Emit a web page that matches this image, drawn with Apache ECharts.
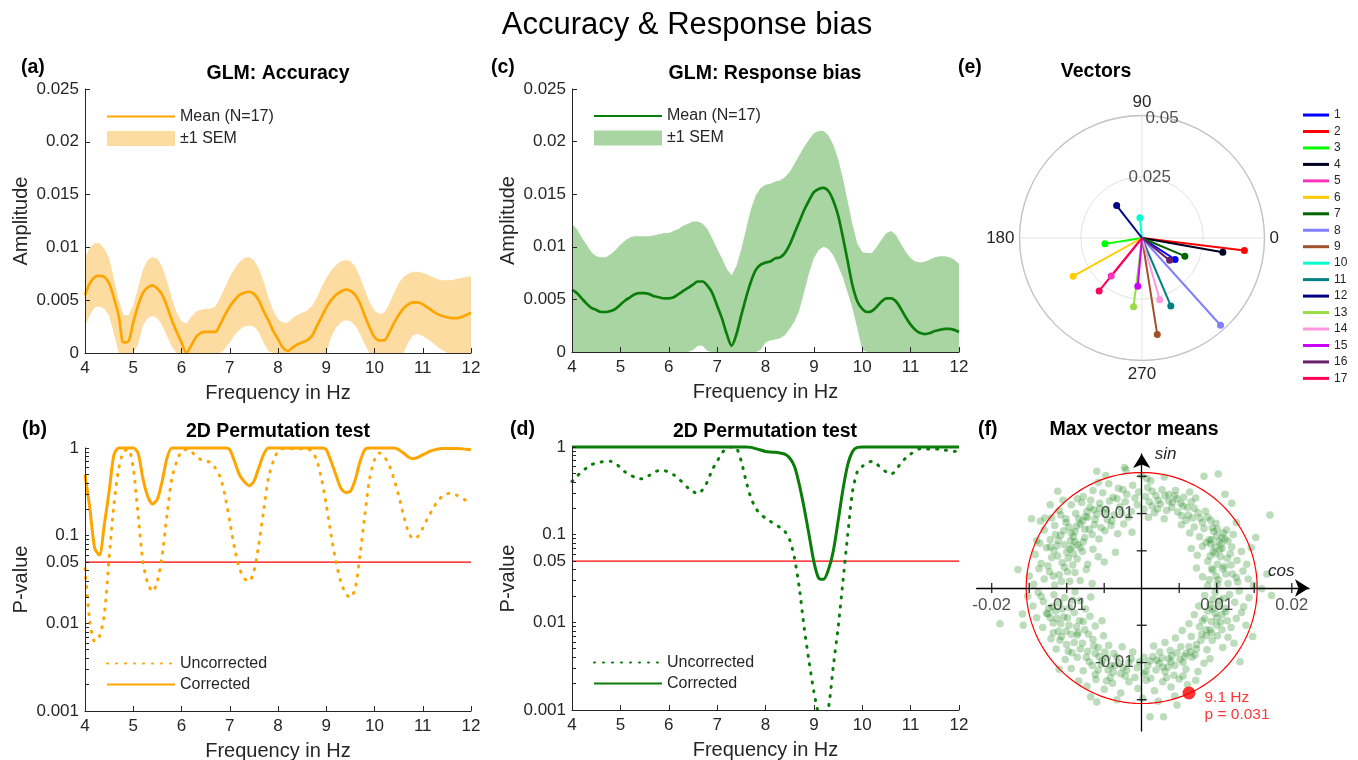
<!DOCTYPE html>
<html><head><meta charset="utf-8">
<script src="https://cdn.jsdelivr.net/npm/echarts@6/dist/echarts.min.js"></script>
<style>html,body{margin:0;padding:0;background:#fff}#c{width:1358px;height:760px}</style>
</head><body><div id="c"></div>
<script>
// ---------- DATA ----------
const freqHz = [4.0,4.1,4.2,4.3,4.4,4.5,4.6,4.7,4.8,4.9,
 5.0,5.1,5.2,5.3,5.4,5.5,5.6,5.7,5.8,5.9,
 6.0,6.1,6.2,6.3,6.4,6.5,6.6,6.7,6.8,6.9,
 7.0,7.1,7.2,7.3,7.4,7.5,7.6,7.7,7.8,7.9,
 8.0,8.1,8.2,8.3,8.4,8.5,8.6,8.7,8.8,8.9,
 9.0,9.1,9.2,9.3,9.4,9.5,9.6,9.7,9.8,9.9,
 10.0,10.1,10.2,10.3,10.4,10.5,10.6,10.7,10.8,10.9,
 11.0,11.1,11.2,11.3,11.4,11.5,11.6,11.7,11.8,11.9,
 12.0];

const accMean = [0.0055,0.0066,0.0072,0.0073,0.0072,0.0066,0.0052,0.0035,0.0010,0.0011,
 0.0029,0.0045,0.0057,0.0062,0.0064,0.0061,0.0055,0.0044,0.0031,0.0020,
 0.0010,0.0000,0.0007,0.0015,0.0019,0.0020,0.0020,0.0020,0.0027,0.0036,
 0.0044,0.0050,0.0055,0.0057,0.0058,0.0056,0.0050,0.0040,0.0031,0.0021,
 0.0013,0.0005,0.0002,0.0005,0.0008,0.0010,0.0012,0.0016,0.0025,0.0034,
 0.0043,0.0050,0.0055,0.0058,0.0060,0.0059,0.0055,0.0047,0.0035,0.0024,
 0.0015,0.0012,0.0012,0.0019,0.0028,0.0036,0.0042,0.0046,0.0048,0.0048,
 0.0046,0.0043,0.0040,0.0037,0.0035,0.0034,0.0033,0.0033,0.0034,0.0036,
 0.0038];
const accUpper = [0.0090,0.0100,0.0104,0.0104,0.0099,0.0090,0.0070,0.0050,0.0036,0.0036,
 0.0045,0.0062,0.0079,0.0088,0.0091,0.0089,0.0082,0.0068,0.0052,0.0038,
 0.0030,0.0028,0.0034,0.0039,0.0041,0.0042,0.0042,0.0044,0.0052,0.0062,
 0.0072,0.0080,0.0086,0.0090,0.0091,0.0088,0.0080,0.0068,0.0053,0.0040,
 0.0032,0.0029,0.0029,0.0033,0.0036,0.0038,0.0040,0.0044,0.0052,0.0062,
 0.0071,0.0078,0.0083,0.0087,0.0088,0.0087,0.0082,0.0072,0.0060,0.0048,
 0.0040,0.0037,0.0038,0.0046,0.0056,0.0066,0.0072,0.0075,0.0077,0.0077,
 0.0076,0.0074,0.0072,0.0070,0.0069,0.0069,0.0069,0.0070,0.0071,0.0072,
 0.0073];
const accLower = [0.0025,0.0036,0.0043,0.0044,0.0042,0.0035,0.0018,0,0,0,
 0,0.0008,0.0026,0.0033,0.0035,0.0033,0.0026,0.0016,0.0006,0,
 0,0,0,0,0,0,0,0,0,0.0004,
 0.0010,0.0017,0.0022,0.0025,0.0026,0.0025,0.0020,0.0010,0.0002,0,
 0,0,0,0,0,0,0,0,0,0,
 0,0.0015,0.0024,0.0029,0.0031,0.0030,0.0026,0.0018,0.0008,0,
 0,0,0,0,0,0,0,0.0010,0.0017,0.0018,
 0.0016,0.0013,0.0010,0.0006,0.0003,0,0,0,0,0,
 0];

const accPCorr = [0.495,0.206,0.072,0.060,0.133,0.32,0.84,1,1,1,
 1,0.877,0.45,0.28,0.23,0.26,0.42,0.77,1,1,
 1,1,1,1,1,1,1,1,1,1,
 0.96,0.70,0.495,0.416,0.371,0.416,0.59,0.84,1,1,
 1,1,1,1,1,1,1,1,1,1,
 0.96,0.70,0.495,0.349,0.311,0.32,0.434,0.70,0.96,1,
 1,1,1,1,1,0.96,0.877,0.79,0.755,0.78,
 0.84,0.89,0.94,0.97,0.99,0.99,0.99,0.99,0.98,0.97,
 0.955];
const accPUnc = [0.042,0.0104,0.0062,0.0071,0.0124,0.055,0.225,0.59,0.916,0.96,
 0.59,0.173,0.0506,0.0286,0.023,0.030,0.060,0.173,0.45,0.70,
 0.92,0.96,0.92,0.80,0.74,0.70,0.69,0.59,0.47,0.29,
 0.145,0.072,0.0425,0.0326,0.030,0.0389,0.078,0.189,0.45,0.70,
 0.92,0.98,0.98,0.98,0.98,0.98,0.98,0.92,0.735,0.45,
 0.225,0.102,0.0506,0.030,0.022,0.0196,0.025,0.060,0.173,0.45,
 0.735,0.877,0.80,0.645,0.45,0.29,0.173,0.111,0.092,0.098,
 0.1216,0.158,0.197,0.245,0.28,0.30,0.305,0.29,0.272,0.25,
 0.225];

const biasMean = [0.0059,0.0056,0.0051,0.0046,0.0042,0.0040,0.0038,0.0038,0.0039,0.0041,
 0.0045,0.0049,0.0052,0.0055,0.0056,0.0056,0.0055,0.0053,0.0052,0.0051,
 0.0051,0.0052,0.0055,0.0058,0.0061,0.0064,0.0067,0.0067,0.0063,0.0056,
 0.0044,0.0032,0.0017,0.0006,0.0017,0.0035,0.0052,0.0067,0.0078,0.0083,
 0.0085,0.0086,0.0089,0.0090,0.0094,0.0102,0.0113,0.0124,0.0135,0.0144,
 0.0152,0.0155,0.0156,0.0153,0.0144,0.0130,0.0109,0.0086,0.0063,0.0048,
 0.0041,0.0038,0.0039,0.0043,0.0048,0.0051,0.0051,0.0048,0.0041,0.0033,
 0.0026,0.0021,0.0018,0.0017,0.0018,0.0020,0.0021,0.0022,0.0022,0.0021,
 0.0019];
const biasUpper = [0.0122,0.0117,0.0109,0.0102,0.0095,0.0091,0.0090,0.0090,0.0093,0.0097,
 0.0102,0.0106,0.0109,0.0110,0.0110,0.0110,0.0110,0.0111,0.0112,0.0113,
 0.0113,0.0115,0.0117,0.0120,0.0122,0.0124,0.0124,0.0122,0.0117,0.0108,
 0.0098,0.0089,0.0079,0.0073,0.0082,0.0098,0.0117,0.0136,0.0149,0.0156,
 0.0159,0.0160,0.0162,0.0163,0.0166,0.0171,0.0179,0.0187,0.0195,0.0202,
 0.0208,0.0210,0.0210,0.0206,0.0197,0.0184,0.0165,0.0143,0.0121,0.0103,
 0.0095,0.0094,0.0094,0.0100,0.0107,0.0113,0.0115,0.0111,0.0103,0.0095,
 0.0089,0.0086,0.0085,0.0086,0.0088,0.0090,0.0091,0.0091,0.0090,0.0088,
 0.0084];
const biasLower = [0,0,0,0,0,0,0,0,0,0,
 0,0,0,0,0,0,0,0,0,0,
 0,0,0,0,0,0.0002,0.0006,0.0006,0.0001,0,
 0,0,0,0,0,0,0,0,0,0.0002,
 0.0009,0.0011,0.0012,0.0013,0.0016,0.0022,0.0029,0.0040,0.0057,0.0075,
 0.0089,0.0097,0.0100,0.0098,0.0092,0.0082,0.0071,0.0056,0.0041,0.0022,
 0.0002,0,0,0,0,0,0,0,0,0,
 0,0,0,0,0,0,0,0,0,0,
 0];

const biasPCorr = [1,1,1,1,1,1,1,1,1,1,
 1,1,1,1,1,1,1,1,1,1,
 1,1,1,1,1,1,1,1,1,1,
 1,1,1,1,1,1,1,0.99,0.957,0.924,
 0.89,0.877,0.87,0.854,0.83,0.75,0.60,0.37,0.20,0.10,
 0.049,0.0319,0.031,0.0397,0.0643,0.142,0.326,0.63,0.89,0.99,
 1,1,1,1,1,1,1,1,1,1,
 1,1,1,1,1,1,1,1,1,1,
 1];
const biasPUnc = [0.405,0.46,0.527,0.576,0.628,0.656,0.674,0.686,0.686,0.656,
 0.576,0.518,0.483,0.45,0.435,0.435,0.475,0.518,0.537,0.537,
 0.518,0.483,0.435,0.388,0.34,0.312,0.29,0.326,0.405,0.55,
 0.686,0.854,0.974,1,0.974,0.686,0.405,0.262,0.20,0.169,
 0.155,0.142,0.13,0.121,0.109,0.0875,0.054,0.0245,0.0086,0.00357,
 0.00162,0.0009,0.0008,0.00105,0.0031,0.0086,0.029,0.1,0.312,0.527,
 0.60,0.656,0.686,0.64,0.566,0.518,0.49,0.55,0.656,0.75,
 0.83,0.91,0.957,0.95,0.95,0.95,0.95,0.924,0.91,0.89,
 0.91];

const pTickValues = [0.001, 0.01, 0.05, 0.1, 1];
const pTickLabels = ['0.001', '0.01', '0.05', '0.1', '1'];
const pMinorTicks = [0.001,0.002,0.003,0.004,0.005,0.006,0.007,0.008,0.009,
 0.01,0.02,0.03,0.04,0.05,0.06,0.07,0.08,0.09,
 0.1,0.2,0.3,0.4,0.5,0.6,0.7,0.8,0.9,1];
const pThresholdLine = [[4, 0.05], [12, 0.05]];

// (e) vectors: length (amplitude) and phase angle in degrees
const vecNames = ['1','2','3','4','5','6','7','8','9','10','11','12','13','14','15','16','17'];
const vecLen = [0.0161,0.0421,0.0153,0.0335,0.0200,0.0321,0.0190,0.0479,0.0399,0.0083,0.0301,0.0168,0.0283,0.0262,0.0198,0.0145,0.0278];
const vecAngle = [327,353,189,350,231,209,337,312,279,96,293,128,263,286,265,321,231];
const vecColors = ['#0000ff','#ff0000','#00ff00','#000022','#ff33bb','#ffcc00','#006400','#8080ff','#a0522d','#00ffcc','#008080','#000080','#99dd44','#ff99dd','#cc00ff','#6b1f6b','#ff0055'];
const polarRadiusLabels = [{value:[0.0248, 82.7], name:'0.025'}, {value:[0.0496, 80.5], name:'0.05'}];

// (f) max vector means (cos, sin)
const maxVecCloud = [
[-0.0078,0.0123],[-0.0065,0.0131],[-0.0052,0.0128],[-0.0044,0.0140],[-0.0031,0.0134],[-0.0020,0.0126],[-0.0012,0.0138],[-0.0004,0.0129],[0.0008,0.0135],[0.0019,0.0124],[0.0027,0.0132],[0.0036,0.0126],[0.0045,0.0131],[0.0056,0.0122],[0.0064,0.0129],[0.0072,0.0121],[-0.0086,0.0120],[-0.0038,0.0122],[0.0012,0.0144],[-0.0058,0.0142],
[-0.0110,0.0104],[-0.0101,0.0093],[-0.0094,0.0112],[-0.0088,0.0100],[-0.0080,0.0115],[-0.0075,0.0096],[-0.0069,0.0108],[-0.0062,0.0092],[-0.0056,0.0114],[-0.0050,0.0101],[-0.0043,0.0117],[-0.0037,0.0098],[-0.0029,0.0109],[-0.0022,0.0116],[-0.0014,0.0103],[-0.0006,0.0112],[0.0003,0.0106],[0.0010,0.0116],[0.0017,0.0101],[0.0025,0.0113],[0.0033,0.0104],[0.0041,0.0115],[0.0048,0.0102],[0.0055,0.0110],[0.0062,0.0098],[0.0070,0.0107],[0.0078,0.0094],[0.0085,0.0103],[0.0092,0.0091],[-0.0120,0.0094],[0.0030,0.0093],[0.0059,0.0091],[-0.0046,0.0092],[0.0009,0.0095],[0.0066,0.0116],[-0.0105,0.0118],
[-0.0130,0.0078],[-0.0122,0.0065],[-0.0116,0.0084],[-0.0108,0.0071],[-0.0101,0.0088],[-0.0095,0.0064],[-0.0089,0.0076],[-0.0082,0.0086],[-0.0076,0.0068],[-0.0070,0.0079],[-0.0063,0.0085],[-0.0057,0.0066],[-0.0049,0.0077],[-0.0041,0.0084],[-0.0032,0.0073],[-0.0024,0.0086],[0.0070,0.0082],[0.0077,0.0069],[0.0083,0.0080],[0.0090,0.0065],[0.0096,0.0076],[0.0103,0.0062],[0.0109,0.0074],[0.0115,0.0063],[0.0122,0.0072],[0.0086,0.0061],[0.0064,0.0074],[-0.0013,0.0075],[0.0126,0.0088],[-0.0140,0.0064],[0.0053,0.0085],[0.0099,0.0087],
[-0.0142,0.0045],[-0.0134,0.0033],[-0.0127,0.0054],[-0.0120,0.0041],[-0.0113,0.0057],[-0.0106,0.0034],[-0.0100,0.0048],[-0.0093,0.0055],[-0.0086,0.0039],[-0.0079,0.0049],[-0.0072,0.0032],[-0.0065,0.0052],[-0.0058,0.0042],[-0.0050,0.0035],[0.0074,0.0044],[0.0081,0.0056],[0.0088,0.0036],[0.0095,0.0049],[0.0101,0.0032],[0.0107,0.0053],[0.0114,0.0040],[0.0120,0.0055],[0.0127,0.0037],[0.0133,0.0049],[0.0140,0.0032],[0.0092,0.0059],[0.0066,0.0053],[-0.0035,0.0048],[0.0110,0.0029],[0.0146,0.0054],
[-0.0150,0.0016],[-0.0144,0.0005],[-0.0137,0.0026],[-0.0130,0.0012],[-0.0123,0.0022],[-0.0116,0.0004],[-0.0110,0.0018],[-0.0103,0.0028],[-0.0096,0.0009],[-0.0089,0.0021],[-0.0082,0.0010],[-0.0074,0.0025],[-0.0066,0.0006],[0.0081,0.0015],[0.0088,0.0003],[0.0095,0.0024],[0.0102,0.0011],[0.0108,0.0026],[0.0115,0.0006],[0.0121,0.0019],[0.0128,0.0008],[0.0135,0.0023],[0.0142,0.0012],[0.0149,0.0004],[0.0073,0.0027],
[-0.0152,-0.0011],[-0.0145,-0.0024],[-0.0138,-0.0006],[-0.0131,-0.0018],[-0.0124,-0.0027],[-0.0117,-0.0009],[-0.0110,-0.0020],[-0.0103,-0.0013],[-0.0096,-0.0026],[-0.0089,-0.0005],[-0.0082,-0.0017],[-0.0075,-0.0028],[0.0084,-0.0010],[0.0091,-0.0022],[0.0098,-0.0006],[0.0104,-0.0016],[0.0111,-0.0027],[0.0117,-0.0009],[0.0124,-0.0019],[0.0130,-0.0004],[0.0136,-0.0025],[0.0143,-0.0013],[0.0076,-0.0024],[-0.0068,-0.0012],
[-0.0140,-0.0040],[-0.0132,-0.0053],[-0.0125,-0.0035],[-0.0118,-0.0047],[-0.0111,-0.0058],[-0.0104,-0.0039],[-0.0097,-0.0050],[-0.0090,-0.0033],[-0.0083,-0.0044],[-0.0076,-0.0056],[-0.0069,-0.0038],[-0.0062,-0.0051],[0.0063,-0.0048],[0.0070,-0.0036],[0.0077,-0.0052],[0.0084,-0.0041],[0.0091,-0.0056],[0.0098,-0.0034],[0.0105,-0.0046],[0.0112,-0.0032],[0.0119,-0.0053],[0.0126,-0.0041],[0.0133,-0.0033],[0.0054,-0.0057],[-0.0053,-0.0044],[0.0139,-0.0050],
[-0.0121,-0.0068],[-0.0114,-0.0082],[-0.0107,-0.0065],[-0.0100,-0.0076],[-0.0093,-0.0087],[-0.0086,-0.0063],[-0.0079,-0.0074],[-0.0072,-0.0085],[-0.0065,-0.0069],[-0.0058,-0.0080],[-0.0051,-0.0064],[-0.0044,-0.0077],[-0.0037,-0.0088],[0.0024,-0.0086],[0.0031,-0.0073],[0.0038,-0.0084],[0.0045,-0.0067],[0.0052,-0.0079],[0.0059,-0.0088],[0.0066,-0.0065],[0.0073,-0.0076],[0.0080,-0.0062],[0.0087,-0.0083],[0.0094,-0.0070],[0.0101,-0.0064],[0.0108,-0.0080],[0.0115,-0.0066],[-0.0026,-0.0079],[0.0016,-0.0078],[-0.0012,-0.0086],[0.0123,-0.0074],
[-0.0102,-0.0096],[-0.0094,-0.0108],[-0.0086,-0.0093],[-0.0078,-0.0111],[-0.0070,-0.0099],[-0.0062,-0.0116],[-0.0054,-0.0102],[-0.0046,-0.0094],[-0.0038,-0.0113],[-0.0030,-0.0101],[-0.0022,-0.0118],[-0.0014,-0.0095],[-0.0006,-0.0107],[0.0003,-0.0115],[0.0011,-0.0098],[0.0019,-0.0110],[0.0027,-0.0094],[0.0035,-0.0106],[0.0043,-0.0117],[0.0051,-0.0096],[0.0059,-0.0109],[0.0067,-0.0093],[0.0075,-0.0112],[0.0083,-0.0101],[0.0091,-0.0095],[-0.0110,-0.0109],[-0.0009,-0.0120],[0.0040,-0.0091],[-0.0042,-0.0120],
[-0.0084,-0.0125],[-0.0073,-0.0132],[-0.0061,-0.0123],[-0.0050,-0.0136],[-0.0039,-0.0128],[-0.0028,-0.0141],[-0.0017,-0.0126],[-0.0005,-0.0135],[0.0006,-0.0124],[0.0017,-0.0138],[0.0028,-0.0126],[0.0039,-0.0133],[0.0050,-0.0122],[0.0061,-0.0130],[0.0072,-0.0124],[-0.0033,-0.0150],[0.0001,-0.0148],[0.0022,-0.0152],[-0.0068,-0.0146],[0.0044,-0.0145],
[-0.0060,0.0157],[-0.0048,0.0151],[-0.0023,0.0162],[-0.0021,0.0159],[0.0000,0.0151],[0.0007,0.0147],[0.0030,0.0149],[0.0083,0.0150],[0.0102,0.0153],[0.0111,0.0126],[0.0120,0.0114],[0.0171,0.0098],[0.0167,0.0019],[0.0160,-0.0001],[0.0173,-0.0010],[-0.0189,-0.0048],[-0.0158,-0.0050],[-0.0147,0.0093],[-0.0112,0.0130],[-0.0122,0.0112],[0.0131,-0.0099],[0.0029,-0.0173],[0.0011,-0.0173],[0.0047,-0.0157],[-0.0060,-0.0153],[-0.0165,0.0025],[-0.0159,-0.0035],[0.0148,-0.0065],[-0.0135,0.0090],[0.0152,0.0068],
[-0.0097,0.0082],[-0.0091,0.0069],[-0.0084,0.0093],[-0.0078,0.0062],[-0.0073,0.0103],[-0.0066,0.0072],[-0.0060,0.0099],[-0.0054,0.0081],[-0.0047,0.0106],[-0.0040,0.0090],[-0.0033,0.0120],[-0.0027,0.0101],[-0.0018,0.0095],[-0.0009,0.0121],[-0.0117,0.0050],[-0.0111,0.0064],[-0.0104,0.0077],[-0.0098,0.0040],[-0.0091,0.0046],[-0.0085,0.0058],[-0.0125,0.0030],[-0.0118,0.0016],[-0.0107,0.0009],[-0.0099,0.0022],[-0.0092,0.0031],[-0.0136,0.0060],[-0.0129,0.0094],[-0.0108,0.0098],[-0.0068,0.0118],[-0.0025,0.0132],
[0.0005,0.0123],[0.0014,0.0130],[0.0022,0.0118],[0.0031,0.0124],[0.0040,0.0108],[0.0047,0.0120],[0.0053,0.0097],[0.0061,0.0108],[0.0068,0.0094],[0.0075,0.0101],[0.0081,0.0088],[0.0088,0.0095],[0.0094,0.0081],[0.0101,0.0079],[0.0107,0.0068],[0.0113,0.0078],[0.0118,0.0046],[0.0105,0.0042],[0.0098,0.0055],[0.0091,0.0043],[0.0112,0.0019],[0.0119,0.0031],[0.0126,0.0014],[0.0099,0.0016],[0.0090,0.0011],
[-0.0134,-0.0011],[-0.0127,-0.0034],[-0.0119,-0.0025],[-0.0113,-0.0041],[-0.0106,-0.0028],[-0.0099,-0.0040],[-0.0092,-0.0016],[-0.0085,-0.0060],[-0.0078,-0.0045],[-0.0071,-0.0062],[-0.0064,-0.0078],[-0.0057,-0.0092],[-0.0049,-0.0086],[-0.0041,-0.0104],[-0.0033,-0.0093],[-0.0025,-0.0107],[-0.0017,-0.0100],[-0.0098,-0.0085],[-0.0090,-0.0073],[-0.0082,-0.0082],[-0.0074,-0.0093],[-0.0066,-0.0104],[-0.0058,-0.0110],[-0.0047,-0.0125],[-0.0118,-0.0060],
[0.0008,-0.0104],[0.0015,-0.0092],[0.0023,-0.0101],[0.0031,-0.0112],[0.0039,-0.0099],[0.0047,-0.0087],[0.0055,-0.0100],[0.0063,-0.0079],[0.0071,-0.0090],[0.0079,-0.0070],[0.0086,-0.0056],[0.0093,-0.0045],[0.0100,-0.0050],[0.0107,-0.0036],[0.0114,-0.0044],[0.0095,-0.0015],[0.0102,-0.0024],[0.0109,-0.0014],[0.0088,-0.0031],[0.0081,-0.0044],[0.0003,-0.0093],[-0.0003,-0.0099],[0.0012,-0.0121],[0.0033,-0.0120],[0.0055,-0.0118],
[-0.0103,0.0058],[-0.0096,0.0052],[-0.0089,0.0062],[-0.0082,0.0054],[-0.0094,0.0074],[-0.0087,0.0083],[-0.0079,0.0090],[-0.0072,0.0095],[-0.0064,0.0105],[-0.0056,0.0107],[-0.0115,0.0072],[-0.0122,0.0055],[-0.0112,0.0043],[-0.0076,0.0079],
[-0.0108,-0.0048],[-0.0101,-0.0058],[-0.0094,-0.0062],[-0.0087,-0.0052],[-0.0115,-0.0031],[-0.0122,-0.0040],[-0.0109,-0.0070],[-0.0062,-0.0088],[-0.0053,-0.0098],[-0.0045,-0.0110],[-0.0036,-0.0104],[-0.0028,-0.0115],[-0.0020,-0.0110],
[0.0093,0.0065],[0.0100,0.0070],[0.0106,0.0059],[0.0098,0.0046],[0.0104,0.0051],[0.0111,0.0066],[0.0093,0.0026],[0.0101,0.0005],[0.0014,0.0110],[0.0021,0.0106],[0.0036,0.0117],[0.0044,0.0124],[0.0052,0.0114],
[0.0006,-0.0112],[0.0020,-0.0097],[0.0028,-0.0106],[0.0036,-0.0095],[0.0044,-0.0104],[0.0057,-0.0092],[0.0065,-0.0086],[0.0073,-0.0082],[0.0086,-0.0064],[0.0093,-0.0060],[0.0100,-0.0040],[0.0107,-0.0056],[0.0094,-0.0028]
];
const maxVecPoint = [0.0063, -0.0141];
const maxVecNote = '9.1 Hz\np = 0.031';
const nullRadius = 0.0154;
const cosTickValues = [-0.02,-0.015,-0.01,-0.005,0.005,0.01,0.015,0.02];
const sinTickValues = [-0.015,-0.01,-0.005,0.005,0.01,0.015];
const cosLabelValues = [-0.02,-0.01,0.01,0.02];
const sinLabelValues = [-0.01,0.01];

// ---------- STYLE ----------
const FONT = '"Liberation Sans", Arial, Helvetica, sans-serif';
const INK = '#262626';
const ORANGE = '#ffa500';
const ORANGE_BAND = '#fddca2';
const GREEN = '#0b7d0b';
const GREEN_BAND = '#a8d5a2';
const legendText = {aMean:'Mean (N=17)', aSEM:'\u00b11 SEM', cMean:'Mean (N=17)', cSEM:'\u00b11 SEM',
  bUnc:'Uncorrected', bCorr:'Corrected', dUnc:'Uncorrected', dCorr:'Corrected'};

function pairs(xs, ys){ return xs.map((x,i)=>[x, ys[i]]); }

function freqAxis(gi){
  return {type:'value', gridIndex:gi, min:4, max:12, interval:1, z:10,
    name:'Frequency in Hz', nameLocation:'middle', nameGap:30, nameMoveOverlap:false,
    nameTextStyle:{fontSize:20, color:INK, fontFamily:FONT},
    axisLine:{show:true, onZero:false, lineStyle:{color:INK, width:1}},
    axisTick:{show:true, inside:true, length:5, lineStyle:{color:INK}},
    axisLabel:{fontSize:17, color:INK, margin:7, fontFamily:FONT},
    splitLine:{show:false}};
}
function ampAxis(gi){
  return {type:'value', gridIndex:gi, min:0, max:0.025, interval:0.005, z:10,
    name:'Amplitude', nameLocation:'middle', nameGap:54, nameMoveOverlap:false,
    nameTextStyle:{fontSize:20, color:INK, fontFamily:FONT},
    axisLine:{show:true, onZero:false, lineStyle:{color:INK, width:1}},
    axisTick:{show:true, inside:true, length:5, lineStyle:{color:INK}},
    axisLabel:{fontSize:17, color:INK, margin:6, fontFamily:FONT},
    splitLine:{show:false}};
}
function pAxis(gi){
  return {type:'log', logBase:10, gridIndex:gi, min:0.001, max:1, z:10,
    name:'P-value', nameLocation:'middle', nameGap:54, nameMoveOverlap:false,
    nameTextStyle:{fontSize:20, color:INK, fontFamily:FONT},
    axisLine:{show:true, onZero:false, lineStyle:{color:INK, width:1}},
    axisTick:{show:true, inside:true, length:4, customValues:pMinorTicks, lineStyle:{color:INK}},
    axisLabel:{fontSize:17, color:INK, margin:6, fontFamily:FONT, customValues:pTickValues,
      formatter:function(v){ let best=0; pTickValues.forEach((t,i)=>{ if(Math.abs(Math.log10(t)-Math.log10(v)) < Math.abs(Math.log10(pTickValues[best])-Math.log10(v))) best=i; }); return pTickLabels[best]; }},
    minorTick:{show:false}, splitLine:{show:false}};
}

function txt(x, y, text, size, weight, align){
  return {type:'text', x:x, y:y, silent:true, z:100,
    style:{text:text, fontSize:size, fontWeight:weight, fontFamily:FONT, fill:'#000',
      align:align, verticalAlign:'middle', textAlign:align, textVerticalAlign:'middle'}};
}

function bandSeries(name, gi, up, lo, color){
  return {name:name, type:'custom', xAxisIndex:gi, yAxisIndex:gi, data:[[freqHz[0], lo[0]]],
    silent:true, z:1, color:color, itemStyle:{color:color},
    renderItem:function(params, api){
      const pts = [];
      for (let i = 0; i < freqHz.length; i++) pts.push(api.coord([freqHz[i], up[i]]));
      for (let i = freqHz.length - 1; i >= 0; i--) pts.push(api.coord([freqHz[i], lo[i]]));
      return {type:'polygon', shape:{points:pts}, style:{fill:color}};
    }};
}
function thresholdSeries(gi){
  return {name:'thr'+gi, type:'line', xAxisIndex:gi, yAxisIndex:gi, data:pThresholdLine, symbol:'none',
    lineStyle:{color:'#ff0000', width:1.2}, color:'#ff0000', silent:true, z:2};
}

const series = [];
// (a)
series.push(bandSeries('aSEM', 0, accUpper, accLower, ORANGE_BAND));
series.push({name:'aMean', type:'line', xAxisIndex:0, yAxisIndex:0, data:pairs(freqHz, accMean),
  symbol:'none', smooth:0.3, color:ORANGE, lineStyle:{color:ORANGE, width:2.7}, silent:true, z:3});
// (b)
series.push(thresholdSeries(1));
series.push({name:'bUnc', type:'line', xAxisIndex:1, yAxisIndex:1, data:pairs(freqHz, accPUnc),
  symbol:'none', smooth:0.25, clip:false, color:ORANGE, lineStyle:{color:ORANGE, width:3, type:[1,8], cap:'round'}, silent:true, z:3});
series.push({name:'bCorr', type:'line', xAxisIndex:1, yAxisIndex:1, data:pairs(freqHz, accPCorr),
  symbol:'none', smooth:0.25, clip:false, color:ORANGE, lineStyle:{color:ORANGE, width:3}, silent:true, z:3});
// (c)
series.push(bandSeries('cSEM', 2, biasUpper, biasLower, GREEN_BAND));
series.push({name:'cMean', type:'line', xAxisIndex:2, yAxisIndex:2, data:pairs(freqHz, biasMean),
  symbol:'none', smooth:0.3, color:GREEN, lineStyle:{color:GREEN, width:2.7}, silent:true, z:3});
// (d)
series.push(thresholdSeries(3));
series.push({name:'dUnc', type:'line', xAxisIndex:3, yAxisIndex:3, data:pairs(freqHz, biasPUnc),
  symbol:'none', smooth:0.25, color:GREEN, lineStyle:{color:GREEN, width:3, type:[1,8], cap:'round'}, silent:true, z:3});
series.push({name:'dCorr', type:'line', xAxisIndex:3, yAxisIndex:3, data:pairs(freqHz, biasPCorr),
  symbol:'none', smooth:0.25, clip:false, color:GREEN, lineStyle:{color:GREEN, width:3}, silent:true, z:3});
// (e) vectors
vecNames.forEach((nm, i) => {
  series.push({name:nm, type:'line', coordinateSystem:'polar', polarIndex:0,
    data:[{value:[0, 0], symbol:'none'}, {value:[vecLen[i], vecAngle[i]], symbol:'circle', symbolSize:7}],
    symbol:'circle', showSymbol:true, color:vecColors[i], lineStyle:{color:vecColors[i], width:2},
    itemStyle:{color:vecColors[i]}, silent:true, z:3});
});
series.push({name:'rlabels', type:'scatter', coordinateSystem:'polar', polarIndex:0, data:polarRadiusLabels,
  symbolSize:0, silent:true, z:4,
  label:{show:true, position:'inside', formatter:'{b}', fontSize:17, color:INK, fontFamily:FONT}});
// (f)
series.push({name:'cloud', type:'scatter', xAxisIndex:4, yAxisIndex:4, data:maxVecCloud,
  symbolSize:7.5, itemStyle:{color:'rgba(25,135,25,0.36)'}, silent:true, z:2});
const circleAngles = []; for (let a = 0; a <= 360; a += 3) circleAngles.push(a);
series.push({name:'nullCircle', type:'line', coordinateSystem:'polar', polarIndex:1,
  data:circleAngles.map(a => [nullRadius, a]), symbol:'none', lineStyle:{color:'#ff0000', width:1.2}, silent:true, z:4});
series.push({name:'xticks', type:'scatter', xAxisIndex:4, yAxisIndex:4, data:cosTickValues.map(v=>[v,0]),
  symbol:'rect', symbolSize:[1.4,10], itemStyle:{color:'#000'}, silent:true, z:6});
series.push({name:'yticks', type:'scatter', xAxisIndex:4, yAxisIndex:4, data:sinTickValues.map(v=>[0,v]),
  symbol:'rect', symbolSize:[10,1.4], itemStyle:{color:'#000'}, silent:true, z:6});
series.push({name:'xlabels', type:'scatter', xAxisIndex:4, yAxisIndex:4,
  data:cosLabelValues.map(v=>({value:[v,0], name:String(v)})), symbolSize:0, silent:true, z:8,
  label:{show:true, formatter:'{b}', position:'bottom', distance:9, fontSize:17, color:INK, fontFamily:FONT}});
series.push({name:'ylabels', type:'scatter', xAxisIndex:4, yAxisIndex:4,
  data:sinLabelValues.map(v=>({value:[0,v], name:String(v)})), symbolSize:0, silent:true, z:8,
  label:{show:true, formatter:'{b}', position:'left', distance:8, fontSize:17, color:INK, fontFamily:FONT}});
series.push({name:'maxPoint', type:'scatter', xAxisIndex:4, yAxisIndex:4, data:[maxVecPoint],
  symbolSize:13, itemStyle:{color:'#ff0000'}, silent:true, z:7,
  label:{show:true, formatter:maxVecNote, position:'right', distance:9, offset:[0,13],
    color:'#ff0000', fontSize:15.5, lineHeight:17, align:'left', fontFamily:FONT}});

const lineLegendBase = {orient:'vertical', itemWidth:68, itemHeight:15, padding:0, selectedMode:false,
  itemStyle:{opacity:0}, formatter:n => legendText[n], textStyle:{fontSize:16, color:INK, fontFamily:FONT}};

const option = {
  animation:false,
  backgroundColor:'#ffffff',
  textStyle:{fontFamily:FONT},
  grid:[
    {left:85, top:89, width:386, height:264, outerBoundsMode:'none'},
    {left:85, top:448, width:386, height:263, outerBoundsMode:'none'},
    {left:572, top:89, width:387, height:263, outerBoundsMode:'none'},
    {left:572, top:447, width:387, height:263, outerBoundsMode:'none'},
    {left:976.7, top:454, width:332.3, height:277, outerBoundsMode:'none'}
  ],
  polar:[{center:[1142, 238], radius:122.5}, {center:[1141.7, 588], radius:150}],
  angleAxis:[
    {polarIndex:0, type:'value', min:0, max:360, interval:90, startAngle:0, clockwise:false, z:2,
      axisLine:{show:true, lineStyle:{color:'#c2c2c2', width:1.3}},
      axisTick:{show:false},
      axisLabel:{show:true, margin:5, fontSize:17, color:INK, fontFamily:FONT, formatter:v => (v >= 360 ? '' : String(v))},
      splitLine:{show:true, lineStyle:{color:'#e3e3e3', width:1}}},
    {polarIndex:1, type:'value', min:0, max:360, startAngle:0, clockwise:false,
      axisLine:{show:false}, axisTick:{show:false}, axisLabel:{show:false}, splitLine:{show:false}}
  ],
  radiusAxis:[
    {polarIndex:0, type:'value', min:0, max:0.05, interval:0.025,
      axisLine:{show:false}, axisTick:{show:false}, axisLabel:{show:false},
      splitLine:{show:true, lineStyle:{color:'#e3e3e3', width:1}}},
    {polarIndex:1, type:'value', min:0, max:0.02,
      axisLine:{show:false}, axisTick:{show:false}, axisLabel:{show:false}, splitLine:{show:false}}
  ],
  xAxis:[freqAxis(0), freqAxis(1), freqAxis(2), freqAxis(3),
    {type:'value', gridIndex:4, min:-0.022, max:0.0223, z:5,
      name:'cos', nameLocation:'end', nameGap:-41, nameMoveOverlap:false,
      nameTextStyle:{fontSize:17, fontStyle:'italic', color:INK, align:'left', verticalAlign:'bottom', padding:[0,0,8,0], fontFamily:FONT},
      axisLine:{show:true, onZero:true, symbol:['none','arrow'], symbolSize:[13,14], lineStyle:{color:'#000', width:1.3}},
      axisTick:{show:false}, axisLabel:{show:false}, splitLine:{show:false}}],
  yAxis:[ampAxis(0), pAxis(1), ampAxis(2), pAxis(3),
    {type:'value', gridIndex:4, min:-0.0192, max:0.018, z:5,
      name:'sin', nameLocation:'end', nameGap:0, nameMoveOverlap:false,
      nameTextStyle:{fontSize:17, fontStyle:'italic', color:INK, align:'left', verticalAlign:'middle', padding:[0,0,0,13], fontFamily:FONT},
      axisLine:{show:true, onZero:true, symbol:['none','arrow'], symbolSize:[13,14], lineStyle:{color:'#000', width:1.3}},
      axisTick:{show:false}, axisLabel:{show:false}, splitLine:{show:false}}],
  legend:[
    Object.assign({}, lineLegendBase, {data:[{name:'aMean'}, {name:'aSEM', icon:'rect', itemStyle:{color:ORANGE_BAND, opacity:1}}],
      left:106, top:108.5, itemGap:6}),
    Object.assign({}, lineLegendBase, {data:[{name:'bUnc'}, {name:'bCorr'}], left:106, top:655.5, itemGap:5}),
    Object.assign({}, lineLegendBase, {data:[{name:'cMean'}, {name:'cSEM', icon:'rect', itemStyle:{color:GREEN_BAND, opacity:1}}],
      left:593, top:108, itemGap:6}),
    Object.assign({}, lineLegendBase, {data:[{name:'dUnc'}, {name:'dCorr'}], left:593, top:654.5, itemGap:5}),
    {data:vecNames, left:1303, top:106.8, orient:'vertical', icon:'rect', itemWidth:26, itemHeight:3, itemGap:0, padding:0,
      selectedMode:false, textStyle:{fontSize:12, lineHeight:16.46, color:INK, fontFamily:FONT}}
  ],
  graphic:[
    txt(687, 25, 'Accuracy & Response bias', 31, 'normal', 'center'),
    txt(21, 68, '(a)', 19.5, 'bold', 'left'),
    txt(278, 74, 'GLM: Accuracy', 19.5, 'bold', 'center'),
    txt(22, 430, '(b)', 19.5, 'bold', 'left'),
    txt(278, 432, '2D Permutation test', 19.5, 'bold', 'center'),
    txt(491, 68, '(c)', 19.5, 'bold', 'left'),
    txt(765, 74, 'GLM: Response bias', 19.5, 'bold', 'center'),
    txt(510, 430, '(d)', 19.5, 'bold', 'left'),
    txt(765, 432, '2D Permutation test', 19.5, 'bold', 'center'),
    txt(958, 68, '(e)', 19.5, 'bold', 'left'),
    txt(1096, 72, 'Vectors', 19.5, 'bold', 'center'),
    txt(978, 430, '(f)', 19.5, 'bold', 'left'),
    txt(1134, 430, 'Max vector means', 19.5, 'bold', 'center')
  ],
  series:series
};

const chart = echarts.init(document.getElementById('c'), null, {renderer:'canvas'});
chart.setOption(option);
</script>
</body></html>
